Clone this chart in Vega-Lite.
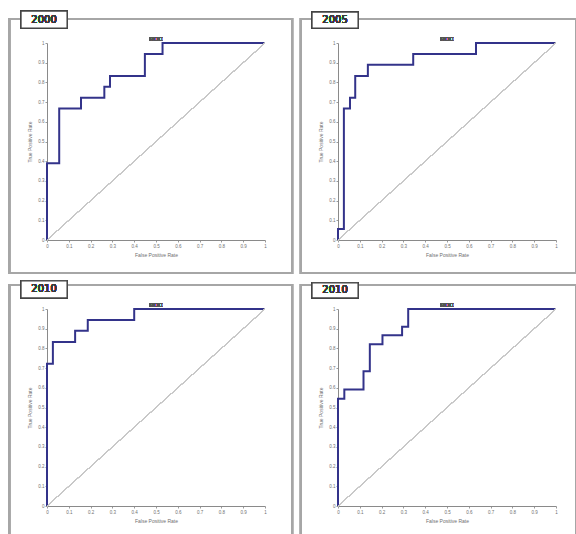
{
  "$schema": "https://vega.github.io/schema/vega-lite/v6.json",
  "background": "white",
  "padding": {"left": 8, "top": 10, "right": 0, "bottom": 0},
  "bounds": "flush",
  "columns": 2,
  "spacing": {"row": 69, "column": 73},
  "config": {
    "view": {"stroke": null},
    "font": "Liberation Sans",
    "axis": {
      "grid": false,
      "labelFontSize": 4.5,
      "labelColor": "#707070",
      "tickColor": "#9a9a9a",
      "domainColor": "#8a8a8a",
      "tickSize": 2,
      "labelPadding": 1,
      "labelOverlap": false,
      "labelFlush": false,
      "titleFontSize": 5,
      "titleColor": "#707070",
      "titleFontWeight": "normal",
      "titlePadding": 5
    }
  },
  "data": {
    "values": [
      {"chart": 1, "fpr": 0, "tpr": 0},
      {"chart": 1, "fpr": 0.056, "tpr": 0.389},
      {"chart": 1, "fpr": 0.156, "tpr": 0.667},
      {"chart": 1, "fpr": 0.263, "tpr": 0.722},
      {"chart": 1, "fpr": 0.289, "tpr": 0.778},
      {"chart": 1, "fpr": 0.449, "tpr": 0.833},
      {"chart": 1, "fpr": 0.53, "tpr": 0.944},
      {"chart": 1, "fpr": 1, "tpr": 1},
      {"chart": 2, "fpr": 0, "tpr": 0},
      {"chart": 2, "fpr": 0.027, "tpr": 0.056},
      {"chart": 2, "fpr": 0.055, "tpr": 0.667},
      {"chart": 2, "fpr": 0.079, "tpr": 0.722},
      {"chart": 2, "fpr": 0.137, "tpr": 0.833},
      {"chart": 2, "fpr": 0.345, "tpr": 0.889},
      {"chart": 2, "fpr": 0.633, "tpr": 0.944},
      {"chart": 2, "fpr": 1, "tpr": 1},
      {"chart": 3, "fpr": 0, "tpr": 0},
      {"chart": 3, "fpr": 0.027, "tpr": 0.722},
      {"chart": 3, "fpr": 0.129, "tpr": 0.833},
      {"chart": 3, "fpr": 0.187, "tpr": 0.889},
      {"chart": 3, "fpr": 0.4, "tpr": 0.944},
      {"chart": 3, "fpr": 1, "tpr": 1},
      {"chart": 4, "fpr": 0, "tpr": 0},
      {"chart": 4, "fpr": 0.029, "tpr": 0.544},
      {"chart": 4, "fpr": 0.117, "tpr": 0.592},
      {"chart": 4, "fpr": 0.146, "tpr": 0.684},
      {"chart": 4, "fpr": 0.204, "tpr": 0.821},
      {"chart": 4, "fpr": 0.294, "tpr": 0.867},
      {"chart": 4, "fpr": 0.322, "tpr": 0.91},
      {"chart": 4, "fpr": 1, "tpr": 1}
    ]
  },
  "concat": [
    {
      "width": 218, "height": 197,
      "layer": [
        {"transform": [{"filter": "datum.chart == 1"}],
         "mark": {"type": "line", "interpolate": "step-before", "color": "#33338a", "strokeWidth": 2},
         "encoding": {"x": {"field": "fpr", "type": "quantitative", "scale": {"domain": [0, 1]}, "title": "False Positive Rate", "axis": {"tickCount": 10, "format": "~g", "labelOverlap": false}},
                      "y": {"field": "tpr", "type": "quantitative", "scale": {"domain": [0, 1]}, "title": "True Positive Rate", "axis": {"tickCount": 10, "format": "~g", "labelOverlap": false}}}},
        {"mark": {"type": "rect", "fill": null, "stroke": "#a6a6a6", "strokeWidth": 2},
         "encoding": {"x": {"datum": -0.174, "type": "quantitative"}, "x2": {"datum": 1.124},
                      "y": {"datum": -0.168, "type": "quantitative"}, "y2": {"datum": 1.122}}},
        {"mark": {"type": "rect", "fill": "white", "stroke": "#444", "strokeWidth": 1.2},
         "encoding": {"x": {"datum": -0.119, "type": "quantitative"}, "x2": {"datum": 0.092},
                      "y": {"datum": 1.076, "type": "quantitative"}, "y2": {"datum": 1.162}}},
        {"mark": {"type": "text", "text": "2000", "font": "DejaVu Sans", "fontSize": 10, "color": "#3a3a3a"},
         "encoding": {"x": {"datum": -0.0135, "type": "quantitative"}, "y": {"datum": 1.119, "type": "quantitative"}}},
        {"mark": {"type": "text", "text": "ROC", "fontSize": 6, "fontWeight": "bold", "color": "#555", "baseline": "bottom", "dy": -1},
         "encoding": {"x": {"datum": 0.5, "type": "quantitative"}, "y": {"datum": 1, "type": "quantitative"}}},
        {"mark": {"type": "rule", "color": "#c8c8c8", "strokeWidth": 1},
         "encoding": {"x": {"datum": 0, "type": "quantitative"}, "x2": {"datum": 1}, "y": {"datum": 0, "type": "quantitative"}, "y2": {"datum": 1}}}
      ]
    },
    {
      "width": 218, "height": 197,
      "layer": [
        {"transform": [{"filter": "datum.chart == 2"}],
         "mark": {"type": "line", "interpolate": "step-before", "color": "#33338a", "strokeWidth": 2},
         "encoding": {"x": {"field": "fpr", "type": "quantitative", "scale": {"domain": [0, 1]}, "title": "False Positive Rate", "axis": {"tickCount": 10, "format": "~g", "labelOverlap": false}},
                      "y": {"field": "tpr", "type": "quantitative", "scale": {"domain": [0, 1]}, "title": "True Positive Rate", "axis": {"tickCount": 10, "format": "~g", "labelOverlap": false}}}},
        {"mark": {"type": "rect", "fill": null, "stroke": "#a6a6a6", "strokeWidth": 2},
         "encoding": {"x": {"datum": -0.17, "type": "quantitative"}, "x2": {"datum": 1.092},
                      "y": {"datum": -0.168, "type": "quantitative"}, "y2": {"datum": 1.122}}},
        {"mark": {"type": "rect", "fill": "white", "stroke": "#444", "strokeWidth": 1.2},
         "encoding": {"x": {"datum": -0.119, "type": "quantitative"}, "x2": {"datum": 0.092},
                      "y": {"datum": 1.076, "type": "quantitative"}, "y2": {"datum": 1.157}}},
        {"mark": {"type": "text", "text": "2005", "font": "DejaVu Sans", "fontSize": 10, "color": "#3a3a3a"},
         "encoding": {"x": {"datum": -0.0135, "type": "quantitative"}, "y": {"datum": 1.116, "type": "quantitative"}}},
        {"mark": {"type": "text", "text": "ROC", "fontSize": 6, "fontWeight": "bold", "color": "#555", "baseline": "bottom", "dy": -1},
         "encoding": {"x": {"datum": 0.5, "type": "quantitative"}, "y": {"datum": 1, "type": "quantitative"}}},
        {"mark": {"type": "rule", "color": "#c8c8c8", "strokeWidth": 1},
         "encoding": {"x": {"datum": 0, "type": "quantitative"}, "x2": {"datum": 1}, "y": {"datum": 0, "type": "quantitative"}, "y2": {"datum": 1}}}
      ]
    },
    {
      "width": 218, "height": 197,
      "layer": [
        {"transform": [{"filter": "datum.chart == 3"}],
         "mark": {"type": "line", "interpolate": "step-before", "color": "#33338a", "strokeWidth": 2},
         "encoding": {"x": {"field": "fpr", "type": "quantitative", "scale": {"domain": [0, 1]}, "title": "False Positive Rate", "axis": {"tickCount": 10, "format": "~g", "labelOverlap": false}},
                      "y": {"field": "tpr", "type": "quantitative", "scale": {"domain": [0, 1]}, "title": "True Positive Rate", "axis": {"tickCount": 10, "format": "~g", "labelOverlap": false}}}},
        {"mark": {"type": "rect", "fill": null, "stroke": "#a6a6a6", "strokeWidth": 2},
         "encoding": {"x": {"datum": -0.174, "type": "quantitative"}, "x2": {"datum": 1.124},
                      "y": {"datum": -0.148, "type": "quantitative"}, "y2": {"datum": 1.122}}},
        {"mark": {"type": "rect", "fill": "white", "stroke": "#444", "strokeWidth": 1.2},
         "encoding": {"x": {"datum": -0.119, "type": "quantitative"}, "x2": {"datum": 0.092},
                      "y": {"datum": 1.056, "type": "quantitative"}, "y2": {"datum": 1.143}}},
        {"mark": {"type": "text", "text": "2010", "font": "DejaVu Sans", "fontSize": 10, "color": "#3a3a3a"},
         "encoding": {"x": {"datum": -0.0135, "type": "quantitative"}, "y": {"datum": 1.0995, "type": "quantitative"}}},
        {"mark": {"type": "text", "text": "ROC", "fontSize": 6, "fontWeight": "bold", "color": "#555", "baseline": "bottom", "dy": -1},
         "encoding": {"x": {"datum": 0.5, "type": "quantitative"}, "y": {"datum": 1, "type": "quantitative"}}},
        {"mark": {"type": "rule", "color": "#c8c8c8", "strokeWidth": 1},
         "encoding": {"x": {"datum": 0, "type": "quantitative"}, "x2": {"datum": 1}, "y": {"datum": 0, "type": "quantitative"}, "y2": {"datum": 1}}}
      ]
    },
    {
      "width": 218, "height": 197,
      "layer": [
        {"transform": [{"filter": "datum.chart == 4"}],
         "mark": {"type": "line", "interpolate": "step-before", "color": "#33338a", "strokeWidth": 2},
         "encoding": {"x": {"field": "fpr", "type": "quantitative", "scale": {"domain": [0, 1]}, "title": "False Positive Rate", "axis": {"tickCount": 10, "format": "~g", "labelOverlap": false}},
                      "y": {"field": "tpr", "type": "quantitative", "scale": {"domain": [0, 1]}, "title": "True Positive Rate", "axis": {"tickCount": 10, "format": "~g", "labelOverlap": false}}}},
        {"mark": {"type": "rect", "fill": null, "stroke": "#a6a6a6", "strokeWidth": 2},
         "encoding": {"x": {"datum": -0.17, "type": "quantitative"}, "x2": {"datum": 1.092},
                      "y": {"datum": -0.148, "type": "quantitative"}, "y2": {"datum": 1.122}}},
        {"mark": {"type": "rect", "fill": "white", "stroke": "#444", "strokeWidth": 1.2},
         "encoding": {"x": {"datum": -0.119, "type": "quantitative"}, "x2": {"datum": 0.092},
                      "y": {"datum": 1.056, "type": "quantitative"}, "y2": {"datum": 1.133}}},
        {"mark": {"type": "text", "text": "2010", "font": "DejaVu Sans", "fontSize": 10, "color": "#3a3a3a"},
         "encoding": {"x": {"datum": -0.0135, "type": "quantitative"}, "y": {"datum": 1.0945, "type": "quantitative"}}},
        {"mark": {"type": "text", "text": "ROC", "fontSize": 6, "fontWeight": "bold", "color": "#555", "baseline": "bottom", "dy": -1},
         "encoding": {"x": {"datum": 0.5, "type": "quantitative"}, "y": {"datum": 1, "type": "quantitative"}}},
        {"mark": {"type": "rule", "color": "#c8c8c8", "strokeWidth": 1},
         "encoding": {"x": {"datum": 0, "type": "quantitative"}, "x2": {"datum": 1}, "y": {"datum": 0, "type": "quantitative"}, "y2": {"datum": 1}}}
      ]
    }
  ]
}
